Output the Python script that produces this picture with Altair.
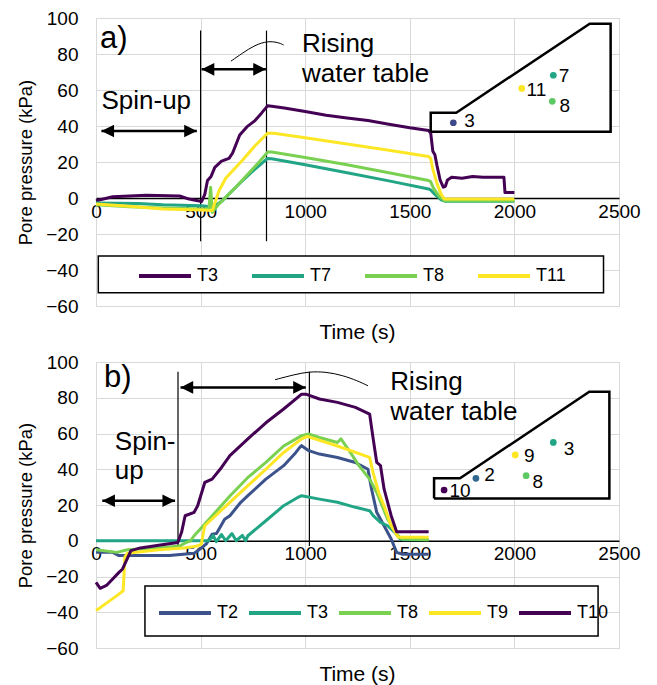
import altair as alt
import pandas as pd

FONT = "Liberation Sans"
X_TICKS = [0, 500, 1000, 1500, 2000, 2500]
Y_TICKS = [-60, -40, -20, 0, 20, 40, 60, 80, 100]

# ---------------- Panel a data ----------------
a_series = ["T3", "T7", "T8", "T11"]
a_colors = ["#440154", "#21a585", "#7ad151", "#fde725"]

a_T3_t = [0, 80, 240, 400, 445, 505, 520, 533, 550, 568, 600, 636, 653, 670, 687, 721, 760, 790, 820, 840,
          900, 1000, 1100, 1200, 1300, 1400, 1500, 1590, 1600, 1610, 1620, 1630, 1645, 1660, 1670, 1680,
          1700, 1750, 1800, 1850, 1900, 1950, 1955, 2000]
a_T3_v = [-1.5, 0.7, 1.5, 1.1, -0.6, -1.9, 2, 9.7, 12, 17, 20.5, 22, 25, 30, 35, 39.5, 43, 47, 51.2, 51,
          50, 48, 46, 44.5, 43, 41, 39, 37.5, 36, 26, 24, 18, 10, 6, 6.5, 10,
          11.5, 11, 12, 11.5, 11.5, 11.5, 3, 3]
a_T7_t = [0, 200, 320, 505, 560, 604, 668, 700, 740, 780, 820, 840, 1000, 1200, 1400, 1590, 1600, 1620,
          1650, 1670, 1700, 2000]
a_T7_v = [-2.8, -3, -3.7, -4.3, -5, -1.5, 6, 9.6, 14, 18, 22, 21.8, 18.5, 14, 9.5, 5, 4.5, 2,
          -1, -1.8, -1.8, -1.8]
a_T8_t = [0, 160, 320, 505, 540, 548, 556, 588, 636, 668, 700, 740, 780, 820, 840, 1000, 1200, 1400,
          1590, 1600, 1615, 1640, 1665, 1700, 2000]
a_T8_v = [-3.7, -4.8, -5.6, -6.1, -6, 6, -8, -3.3, 2.2, 6, 10, 15, 20, 25.5, 25.5, 22.5, 18.5, 14,
          9.7, 9, 5, 1, -1.5, -1.5, -1.5]
a_T11_t = [0, 160, 320, 505, 556, 572, 588, 620, 660, 700, 760, 820, 850, 1000, 1200, 1400, 1590, 1600,
           1610, 1630, 1650, 1665, 1700, 2000]
a_T11_v = [-3.3, -4.6, -6.1, -6.7, -7, -1.5, 4, 11, 16, 21, 29, 36, 36, 33.5, 30, 26.5, 23, 22,
           16, 8, 2, -0.5, -0.5, -0.5]

# inset sketch a
a_outline_t = [1600, 1600, 1722, 2360, 2460, 2460, 1600]
a_outline_v = [36.8, 47.4, 47.4, 96.8, 96.8, 36.8, 36.8]
a_fill_t = [1600, 1722, 2360, 2460]
a_fill_top = [47.4, 47.4, 96.8, 96.8]
a_fill_bottom = 36.8
a_dot_t = [1708, 2035, 2186, 2181]
a_dot_v = [41.8, 60.9, 68.2, 53.7]
a_dot_c = ["#3e4989", "#fde725", "#21a585", "#5ec962"]
a_lab_text = ["3", "11", "7", "8"]
a_lab_t = [1760, 2058, 2212, 2215]
a_lab_v = [42.6, 60.0, 68.0, 51.0]

# ---------------- Panel b data ----------------
b_series = ["T2", "T3", "T8", "T9", "T10"]
b_colors = ["#3b528b", "#21a585", "#7ad151", "#fde725", "#440154"]

b_T2_t = [0, 80, 110, 350, 470, 500, 528, 555, 576, 600, 615, 640, 692, 726, 812, 897, 949, 974, 983,
          1017, 1068, 1154, 1240, 1300, 1317, 1342, 1377, 1411, 1437, 1462, 1590]
b_T2_v = [-6.5, -6.5, -8.3, -8.3, -7, -4.3, -1.7, 3.7, 4, 9, 12, 14, 21.5, 25.2, 34.5, 42, 48.5, 52.2, 53.2,
          50.4, 48.5, 46.6, 43.8, 40, 29, 15.9, 8.4, 1, -6.5, -7.5, -7.5]
b_T3_t = [0, 400, 540, 560, 575, 600, 620, 650, 670, 700, 715, 726, 812, 897, 966, 983, 1068, 1154,
          1240, 1308, 1325, 1360, 1394, 1428, 1454, 1470, 1590]
b_T3_v = [0, 0, 0, 3, -0.5, 3.5, 0, 4, 0, 3, 0, 2.8, 11.2, 19.6, 24.3, 25.2, 23.3, 21.5,
          18.7, 16.8, 14, 10.3, 8.4, 4.7, 1, 0.5, 0.5]
b_T8_t = [0, 100, 150, 300, 400, 430, 452, 469, 520, 640, 726, 812, 897, 983, 1017, 1068, 1154, 1171,
          1205, 1257, 1308, 1342, 1394, 1445, 1462, 1590]
b_T8_v = [-5, -6.5, -5, -4, -3, -1, 0, 2.8, 9.3, 25, 35.4, 43.8, 53, 58.8, 59.7, 57.8, 55, 57,
          51.3, 42, 34.5, 27, 12, 2.8, 1, 0.5]
b_T9_t = [0, 25, 100, 130, 138, 150, 300, 420, 480, 503, 520, 640, 726, 812, 897, 983, 1009, 1154,
          1308, 1325, 1351, 1377, 1411, 1445, 1590]
b_T9_v = [-39, -37, -30.7, -28, -9, -7, -5, -4, -3, -2, 8.4, 21.5, 30.8, 40, 49.4, 57, 58.4, 53,
          46.6, 38, 27, 19.6, 8.4, 1.9, 1.9]
b_T10_t = [0, 20, 50, 110, 127, 167, 212, 300, 391, 409, 426, 469, 486, 520, 555, 600, 640, 726, 812,
           897, 983, 1003, 1068, 1154, 1240, 1308, 1325, 1342, 1360, 1377, 1411, 1437, 1590]
b_T10_v = [-23.3, -26.6, -25, -17.7, -15.8, -5.5, -4, -2.5, -1, 4.7, 14, 15.9, 19.6, 32.6, 34.5, 41, 47.6, 57, 66,
           73.7, 82, 82, 79.3, 77.4, 74.6, 70.9, 57, 43.8, 42, 29, 14, 5, 5]

b_outline_t = [1616, 1616, 1740, 2358, 2454, 2454, 1616]
b_outline_v = [23.7, 34.9, 34.9, 83.4, 83.4, 23.7, 23.7]
b_fill_t = [1616, 1740, 2358, 2454]
b_fill_top = [34.9, 34.9, 83.4, 83.4]
b_fill_bottom = 23.7
b_dot_t = [1664, 1816, 2004, 2186, 2056]
b_dot_v = [28.4, 34.9, 48.0, 55.0, 36.4]
b_dot_c = ["#440154", "#31688e", "#fde725", "#21a585", "#5ec962"]
b_lab_text = ["10", "2", "9", "3", "8"]
b_lab_t = [1690, 1856, 2046, 2236, 2086]
b_lab_v = [27.8, 36.8, 47.2, 51.3, 33.0]


def series_df(names, ts, vs):
    rows = []
    for n, t, v in zip(names, ts, vs):
        for ti, vi in zip(t, v):
            rows.append({"series": n, "t": ti, "v": vi})
    return pd.DataFrame(rows)


XS = alt.Scale(domain=[0, 2500], nice=False, zero=False)
YS = alt.Scale(domain=[-60, 100], nice=False, zero=False)


def panel(height, names, colors, df, legend_x, legend_y, col_pad, legend_box,
          outline_t, outline_v, fill_t, fill_top, fill_bottom,
          dot_t, dot_v, dot_c, lab_text, lab_t, lab_v,
          vlines, arrows, texts, curve, letter):
    zero_off = -(height - height * 100 / 160)
    x_axis = alt.Axis(values=X_TICKS, format="d", grid=True, gridColor="#d9d9d9", gridWidth=1,
                      domain=True, domainColor="black", domainWidth=1.5, ticks=False, tickSize=0,
                      labelFontSize=19, labelFont=FONT, labelColor="black", labelPadding=4,
                      labelFlush=False, labelOverlap=False, offset=zero_off, title=None)
    y_axis = alt.Axis(values=Y_TICKS, format="d", grid=True, gridColor="#d9d9d9", gridWidth=1,
                      domain=False, ticks=False, tickSize=0, labelFontSize=19, labelFont=FONT,
                      labelColor="black", labelPadding=18, labelOverlap=False, labelBound=False,
                      title="Pore pressure (kPa)",
                      titleFontSize=18.5, titleFont=FONT, titleFontWeight="normal",
                      titleColor="black", titlePadding=10)

    def X(f):
        return alt.X(f, scale=XS, axis=x_axis)

    def Y(f):
        return alt.Y(f, scale=YS, axis=y_axis)

    lines = alt.Chart(df).mark_line(strokeWidth=3, strokeJoin="round").encode(
        x=X("t:Q"), y=Y("v:Q"),
        color=alt.Color("series:N", sort=names,
                        scale=alt.Scale(domain=names, range=colors),
                        legend=alt.Legend(orient="none", legendX=legend_x, legendY=legend_y,
                                          direction="horizontal", columns=len(names), title=None,
                                          symbolType="stroke", symbolSize=2704, symbolStrokeWidth=4,
                                          labelFontSize=18, labelFont=FONT, labelColor="black",
                                          labelOffset=4, columnPadding=col_pad, padding=0)),
        detail="series:N",
    )
    bx = pd.DataFrame([{"t": legend_box[0], "t2": legend_box[1], "v": legend_box[2], "v2": legend_box[3]}])
    box = alt.Chart(bx).mark_rect(fill="white", stroke="black", strokeWidth=1.5).encode(
        x=X("t:Q"), x2="t2:Q", y=Y("v:Q"), y2="v2:Q")

    fill_df = pd.DataFrame({"t": fill_t, "top": fill_top, "bot": [fill_bottom] * len(fill_t)})
    fill = alt.Chart(fill_df).mark_area(color="white", opacity=1).encode(
        x=X("t:Q"), y=Y("top:Q"), y2="bot:Q")
    out_df = pd.DataFrame({"t": outline_t, "v": outline_v, "o": list(range(len(outline_t)))})
    outline = alt.Chart(out_df).mark_line(color="black", strokeWidth=2.5, strokeJoin="miter").encode(
        x=X("t:Q"), y=Y("v:Q"), order="o:Q")
    dot_df = pd.DataFrame({"t": dot_t, "v": dot_v, "c": dot_c})
    dots = alt.Chart(dot_df).mark_circle(size=45, opacity=1).encode(
        x=X("t:Q"), y=Y("v:Q"), color=alt.Color("c:N", scale=None))
    lab_df = pd.DataFrame({"t": lab_t, "v": lab_v, "s": lab_text})
    labs = alt.Chart(lab_df).mark_text(align="left", baseline="middle", fontSize=19, font=FONT,
                                       color="black").encode(
        x=X("t:Q"), y=Y("v:Q"), text="s:N")

    vl_df = pd.DataFrame([{"t": t, "v": v1, "v2": v2} for t, v1, v2 in vlines])
    vl = alt.Chart(vl_df).mark_rule(color="black", strokeWidth=1.2).encode(
        x=X("t:Q"), y=Y("v:Q"), y2="v2:Q")

    ar_df = pd.DataFrame([{"t": a[0], "t2": a[1], "v": a[2]} for a in arrows])
    shafts = alt.Chart(ar_df).mark_rule(color="black", strokeWidth=2.5).encode(
        x=X("t:Q"), x2="t2:Q", y=Y("v:Q"))
    heads_l = alt.Chart(ar_df).mark_point(shape="M0,0L2,-1L2,1Z", filled=True, color="black",
                                          size=160, opacity=1).encode(
        x=X("t:Q"), y=Y("v:Q"))
    heads_r = alt.Chart(ar_df).mark_point(shape="M0,0L-2,-1L-2,1Z", filled=True, color="black",
                                          size=160, opacity=1).encode(
        x=X("t2:Q"), y=Y("v:Q"))

    cv_df = pd.DataFrame({"t": curve[0], "v": curve[1]})
    cv = alt.Chart(cv_df).mark_line(color="black", strokeWidth=1, interpolate="basis").encode(
        x=X("t:Q"), y=Y("v:Q"))

    tx_df = pd.DataFrame([{"t": a[0], "v": a[1], "s": a[2]} for a in texts])
    tx = alt.Chart(tx_df).mark_text(align="left", baseline="middle", fontSize=26, font=FONT,
                                    color="black").encode(
        x=X("t:Q"), y=Y("v:Q"), text="s:N")
    lt_df = pd.DataFrame([{"t": letter[0], "v": letter[1], "s": letter[2]}])
    lt = alt.Chart(lt_df).mark_text(align="left", baseline="middle", fontSize=31, font=FONT,
                                    color="black").encode(
        x=X("t:Q"), y=Y("v:Q"), text="s:N")

    return alt.layer(box, fill, vl, cv, lines, outline, dots, labs, shafts, heads_l, heads_r, tx, lt).properties(
        width=523, height=height,
        title=alt.TitleParams("Time (s)", orient="bottom", frame="group", anchor="middle",
                              fontSize=21, font=FONT, fontWeight="normal", color="black", offset=6))


df_a = series_df(a_series, [a_T3_t, a_T7_t, a_T8_t, a_T11_t], [a_T3_v, a_T7_v, a_T8_v, a_T11_v])
df_b = series_df(b_series, [b_T2_t, b_T3_t, b_T8_t, b_T9_t, b_T10_t],
                 [b_T2_v, b_T3_v, b_T8_v, b_T9_v, b_T10_v])

chart_a = panel(288, a_series, a_colors, df_a, 41, 230, 25, (11, 2426, -32.2, -52.6),
                a_outline_t, a_outline_v, a_fill_t, a_fill_top, a_fill_bottom,
                a_dot_t, a_dot_v, a_dot_c, a_lab_text, a_lab_t, a_lab_v,
                vlines=[(500, 93, -24), (815, 93, -24)],
                arrows=[(26, 482, 37.2), (505, 812, 71.5)],
                texts=[(26, 54, "Spin-up"), (985, 85.6, "Rising"), (985, 68.9, "water table")],
                curve=([645, 700, 760, 820, 870, 897], [76, 80.5, 85, 87.2, 86.5, 85]),
                letter=(19, 88.3, "a)"))

chart_b = panel(286, b_series, b_colors, df_b, 61, 223, 2, (234, 2400, -25.3, -53.3),
                b_outline_t, b_outline_v, b_fill_t, b_fill_top, b_fill_bottom,
                b_dot_t, b_dot_v, b_dot_c, b_lab_text, b_lab_t, b_lab_v,
                vlines=[(392, 94.6, -5), (1020, 94.6, -3)],
                arrows=[(30, 378, 22.4), (404, 1003, 85.8)],
                texts=[(90, 55, "Spin-"), (90, 39.2, "up"), (1407, 88.6, "Rising"),
                       (1407, 72.2, "water table")],
                curve=([856, 950, 1018, 1100, 1180, 1250, 1300], [90.1, 93, 94.6, 94.5, 92.5, 89.5, 86.7]),
                letter=(38, 91.3, "b)"))

chart = alt.vconcat(chart_a, chart_b, spacing=8).resolve_scale(color="independent").properties(
    padding={"left": 8, "top": 0, "right": 5, "bottom": 0}
).configure_view(stroke="black", strokeWidth=1.5).configure(background="white")

chart.save("out.html", embed_options={"renderer": "svg", "actions": False})
